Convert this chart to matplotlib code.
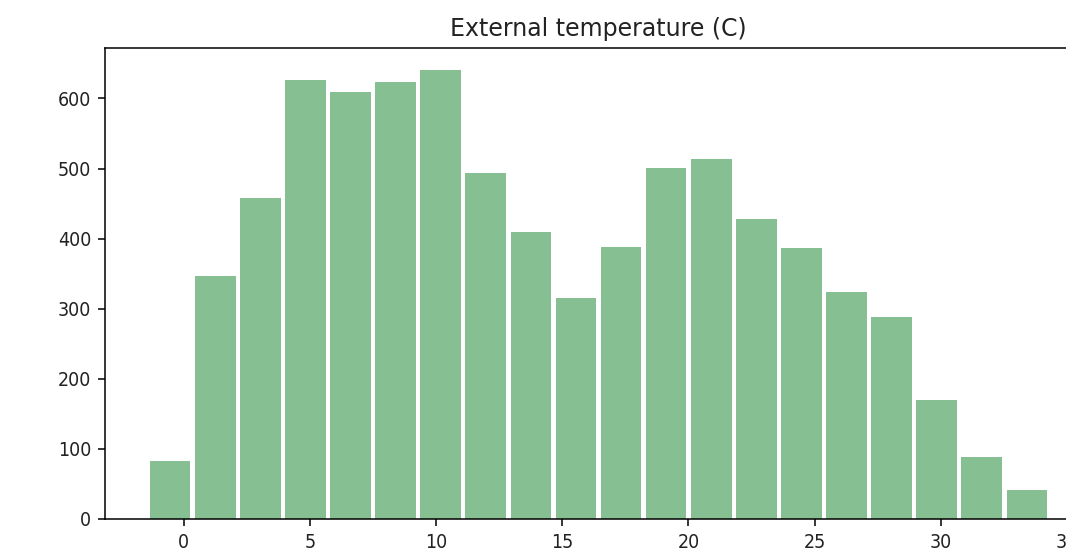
import numpy as np
import matplotlib
matplotlib.use('Agg')
import matplotlib.pyplot as plt

# histogram of external temperature, 20 bins
bin_start = -1.44
bin_width = 1.7875
counts = [83, 347, 458, 627, 609, 623, 640, 493, 410, 315,
          388, 501, 514, 428, 387, 324, 288, 170, 89, 41]
xticks = [0, 5, 10, 15, 20, 25, 30, 35]

edges = bin_start + bin_width * np.arange(len(counts) + 1)
centers = (edges[:-1] + edges[1:]) / 2

plt.rcParams['font.family'] = 'DejaVu Sans'
plt.rcParams['font.stretch'] = 'condensed'

fig = plt.figure(figsize=(10.66, 5.52), dpi=100)
# axes runs past the right edge like the cropped original
ax = fig.add_axes([105/1066, 33/552, 987/1066, 471/552])
ax.hist(centers, bins=edges, weights=counts, rwidth=0.9, color='#86bf91')
ax.set_title('External temperature (C)', fontsize=17, pad=8.4, color='#222222',
             fontstretch='normal')
ax.tick_params(labelsize=14, length=5, width=1.1, pad=5, labelcolor='#222222')
for s in ax.spines.values():
    s.set_linewidth(1.1)
ax.set_xticks(xticks)

fig.savefig('out.png', dpi=100)
